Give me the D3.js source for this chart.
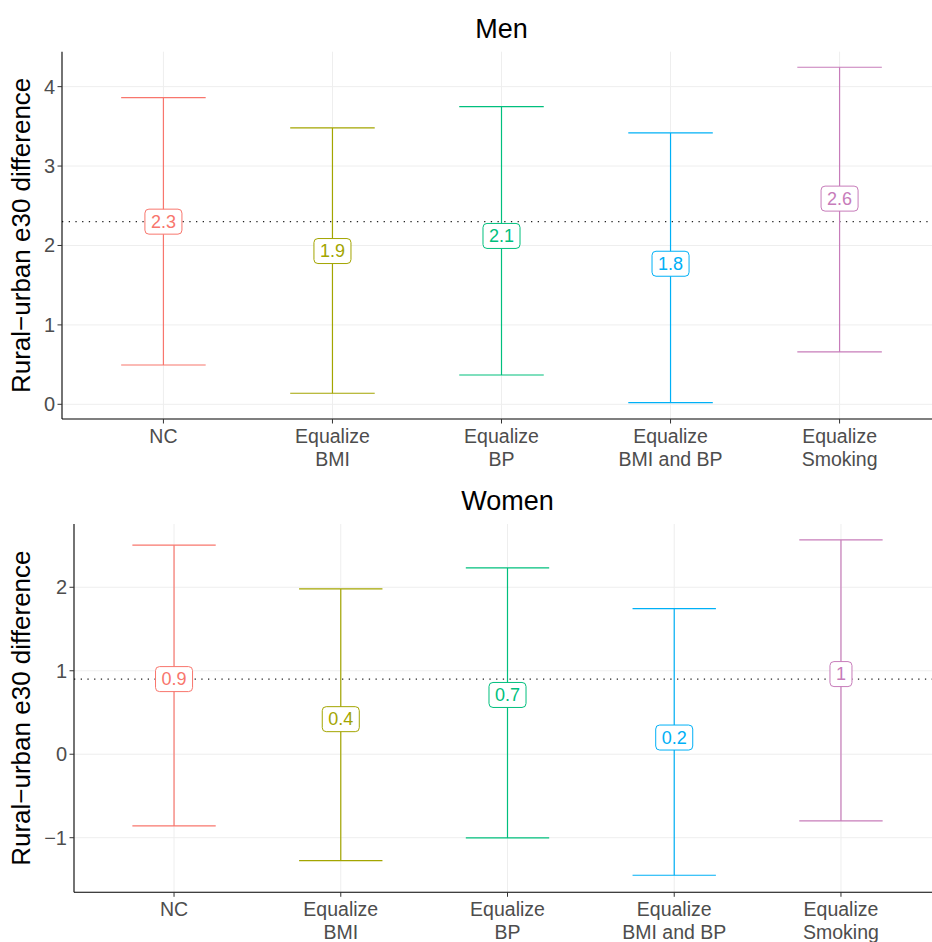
<!DOCTYPE html>
<html>
<head>
<meta charset="utf-8">
<script src="https://cdn.jsdelivr.net/npm/d3@7"></script>
<style>
  body { margin: 0; background: #fff; }
  svg { display: block; font-family: "Liberation Sans", Arial, sans-serif; }
</style>
</head>
<body>
<svg id="chart" width="932" height="942"></svg>
<script>
// categories and tick labels
const categories = ['NC', 'Equalize BMI', 'Equalize BP', 'Equalize BMI and BP', 'Equalize Smoking']
const tickLines = [['NC'], ['Equalize', 'BMI'], ['Equalize', 'BP'], ['Equalize', 'BMI and BP'], ['Equalize', 'Smoking']]
const colors = ['#F8766D', '#A3A500', '#00BF7D', '#00B0F6', '#C77CBA']

// men
const menEst = [2.30, 1.93, 2.12, 1.77, 2.59]
const menLow = [0.495, 0.139, 0.369, 0.02, 0.659]
const menHigh = [3.861, 3.48, 3.748, 3.417, 4.244]
const menTicks = [0, 1, 2, 3, 4]

// women
const womenEst = [0.90, 0.42, 0.71, 0.20, 0.96]
const womenLow = [-0.859, -1.275, -1.003, -1.45, -0.799]
const womenHigh = [2.504, 1.98, 2.232, 1.744, 2.567]
const womenTicks = [-1, 0, 1, 2]

const svg = d3.select('#chart')

const fmtTick = d => d < 0 ? '\u2212' + Math.abs(d) : String(d)
const fmtLabel = d => String(+d.toFixed(1))

function drawPanel(cfg) {
    const { title, est, low, high, ticks, left, top, bottom, right, yDomain } = cfg

    const x = d3.scalePoint()
        .domain(categories)
        .range([left, right])
        .padding(0.6)

    const y = d3.scaleLinear()
        .domain(yDomain)
        .range([bottom, top])

    const g = svg.append('g').attr('class', 'panel')

    // grid
    g.append('g').selectAll('line.hgrid')
        .data(ticks)
        .enter().append('line')
        .attr('x1', left).attr('x2', right)
        .attr('y1', d => y(d)).attr('y2', d => y(d))
        .attr('stroke', '#EEEEEE').attr('stroke-width', 1)

    g.append('g').selectAll('line.vgrid')
        .data(categories)
        .enter().append('line')
        .attr('x1', d => x(d)).attr('x2', d => x(d))
        .attr('y1', top).attr('y2', bottom)
        .attr('stroke', '#EEEEEE').attr('stroke-width', 1)

    // reference line at NC estimate
    g.append('line')
        .attr('x1', left).attr('x2', right)
        .attr('y1', y(est[0])).attr('y2', y(est[0]))
        .attr('stroke', '#222')
        .attr('stroke-width', 1.2)
        .attr('stroke-dasharray', '1.3,5.4')

    const data = categories.map((c, i) => ({ cat: c, est: est[i], low: low[i], high: high[i], color: colors[i] }))
    const capHalf = x.step() * 0.25

    const bars = g.append('g').selectAll('g')
        .data(data)
        .enter().append('g')

    bars.append('line')
        .attr('x1', d => x(d.cat)).attr('x2', d => x(d.cat))
        .attr('y1', d => y(d.low)).attr('y2', d => y(d.high))
        .attr('stroke', d => d.color).attr('stroke-width', 1.2)

    bars.append('line')
        .attr('x1', d => x(d.cat) - capHalf).attr('x2', d => x(d.cat) + capHalf)
        .attr('y1', d => y(d.high)).attr('y2', d => y(d.high))
        .attr('stroke', d => d.color).attr('stroke-width', 1.2)

    bars.append('line')
        .attr('x1', d => x(d.cat) - capHalf).attr('x2', d => x(d.cat) + capHalf)
        .attr('y1', d => y(d.low)).attr('y2', d => y(d.low))
        .attr('stroke', d => d.color).attr('stroke-width', 1.2)

    // labels
    const labels = bars.append('g')
        .attr('transform', d => `translate(${x(d.cat)},${y(d.est)})`)

    const labelText = labels.append('text')
        .attr('text-anchor', 'middle')
        .attr('dy', '0.35em')
        .style('font-size', '18px')
        .attr('fill', d => d.color)
        .text(d => fmtLabel(d.est))

    labelText.each(function () {
        const bb = this.getBBox()
        const padX = 6, h = 25
        d3.select(this.parentNode).insert('rect', 'text')
            .attr('x', -bb.width / 2 - padX)
            .attr('y', -h / 2)
            .attr('width', bb.width + 2 * padX)
            .attr('height', h)
            .attr('rx', 4)
            .attr('fill', '#fff')
            .attr('stroke', d3.select(this).attr('fill'))
            .attr('stroke-width', 1)
    })

    // axes
    g.append('line')
        .attr('x1', left).attr('x2', left)
        .attr('y1', top).attr('y2', bottom)
        .attr('stroke', '#000').attr('stroke-width', 1.1)
    g.append('line')
        .attr('x1', left).attr('x2', right)
        .attr('y1', bottom).attr('y2', bottom)
        .attr('stroke', '#000').attr('stroke-width', 1.1)

    const yt = g.append('g').selectAll('g')
        .data(ticks)
        .enter().append('g')
        .attr('transform', d => `translate(${left},${y(d)})`)
    yt.append('line').attr('x1', -4.5).attr('x2', 0).attr('stroke', '#333').attr('stroke-width', 1)
    yt.append('text')
        .attr('x', -7)
        .attr('dy', '0.35em')
        .attr('text-anchor', 'end')
        .style('font-size', '20px')
        .attr('fill', '#4D4D4D')
        .text(fmtTick)

    const xt = g.append('g').selectAll('g')
        .data(categories)
        .enter().append('g')
        .attr('transform', d => `translate(${x(d)},${bottom})`)
    xt.append('line').attr('y1', 0).attr('y2', 4.5).attr('stroke', '#333').attr('stroke-width', 1)
    xt.append('text')
        .attr('text-anchor', 'middle')
        .style('font-size', '19.5px')
        .attr('fill', '#4D4D4D')
        .selectAll('tspan')
        .data((d, i) => tickLines[i])
        .enter().append('tspan')
        .attr('x', 0)
        .attr('y', (d, i) => 24 + i * 22.5)
        .text(d => d)

    // titles
    svg.append('text')
        .attr('x', (left + right) / 2)
        .attr('y', top - 14)
        .attr('text-anchor', 'middle')
        .style('font-size', '27px')
        .attr('fill', '#000')
        .text(title)

    svg.append('text')
        .attr('transform', `translate(30,${(top + bottom) / 2}) rotate(-90)`)
        .attr('text-anchor', 'middle')
        .style('font-size', '26px')
        .attr('fill', '#000')
        .text('Rural\u2212urban e30 difference')
}

drawPanel({
    title: 'Men', est: menEst, low: menLow, high: menHigh, ticks: menTicks,
    left: 62, top: 51.7, bottom: 419, right: 941, yDomain: [-0.185, 4.44]
})

drawPanel({
    title: 'Women', est: womenEst, low: womenLow, high: womenHigh, ticks: womenTicks,
    left: 74, top: 524, bottom: 892.3, right: 941, yDomain: [-1.654, 2.758]
})
</script>
</body>
</html>
